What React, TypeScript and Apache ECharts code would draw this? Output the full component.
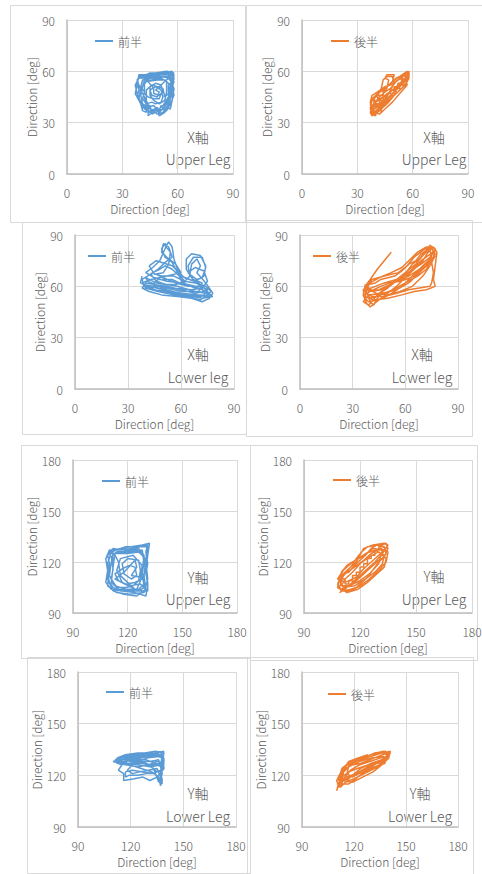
import React, { useEffect, useRef } from "react";
import * as echarts from "echarts";

// Axis ranges (degrees) and tick step
const X_AXIS_RANGE = [0, 90];
const Y_AXIS_RANGE = [90, 180];
const TICK_STEP = 30;

const FRONT = "前半";
const BACK = "後半";

// X axis rotation, upper leg — first half
const upperLegXFront = [
  [40,56],[46,57],[51,58],[56,59],[58,58],[57,52],[58,46],[56,41],[54,37],[51,35],[48,38],[45,36],[42,38],[40,42],[38,47],[37,52],[39,56],
  [43,57],[49,58],[55,58],[57,55],[56,49],[55,43],[53,39],[50,36],[47,40],[44,39],[41,41],[40,46],[41,51],[42,55],
  [46,55],[51,56],[54,54],[54,48],[53,43],[50,41],[47,43],[45,46],[45,51],[48,53],[51,52],[52,48],[50,46],[47,47],[47,50],
  [44,54],[41,57],[45,59],[52,59],[57,60],[58,56],[57,50],[56,44],[53,36],[50,34],[49,39],[46,37],[43,40],[42,45],[40,49],[38,55],
  [41,58],[48,57],[55,57],[58,54],[56,47],[54,42],[52,38],[48,36],[44,37],[41,39],[39,44],[40,50],[43,54],[49,55],[53,55],[56,52],
  [55,45],[52,40],[49,37],[45,38],[43,43],[43,49],[46,52],[52,50],[53,45],[55,47],[55,52],[57,54],[57,58],[53,58],[50,59],[46,58],
  [42,58],[39,57],[38,53],[39,49],[38,45],[40,41],[41,37],[43,36],[43,40],[45,40],[46,35],[48,36],[50,37],[51,40],[53,37],[55,40],
  [56,44],[58,49],[57,53],[55,56],[52,57],[48,56],[44,56],[41,55],[40,51],[42,48],[41,44],[43,41],[46,42],[48,41],[51,42],[52,45],
  [51,49],[48,51],[45,49],[46,46],[49,45],[50,48],[48,49],[52,53],[56,57],[58,59],[54,60],[48,59],[43,58],[39,58],[38,52],[37,47],
  [39,43],[41,40],[44,38],[44,34],[47,37],[49,35],[52,36],[54,39],[56,38],[57,43],[58,50],[56,55],[53,57],[49,56],[45,57],[42,53],
  [42,47],[44,45],[47,44],[50,44],[51,47]
];

// X axis rotation, upper leg — second half
const upperLegXBack = [
  [37,40],[38,44],[41,47],[44,49],[47,52],[50,53],[53,56],[56,58],[58,60],[58,56],[56,52],[53,49],[50,46],[47,42],[44,39],[41,36],[38,34],[37,36],
  [39,41],[42,45],[45,48],[48,50],[51,54],[55,57],[57,59],[57,54],[54,50],[51,47],[48,44],[45,41],[42,38],[39,35],[37,38],
  [38,43],[41,46],[43,50],[44,55],[46,57],[49,57],[50,53],[48,49],[46,45],[43,42],[40,40],[39,44],[42,48],[46,51],[49,54],[53,57],[57,60],
  [58,57],[55,53],[52,51],[49,47],[46,43],[43,40],[40,37],[38,36],[40,42],[43,44],[47,47],[50,50],[54,53],[56,56],[57,52],[53,47],
  [49,42],[45,38],[42,35],[39,36],[38,40],[41,43],[45,46],[49,49],[52,52],[55,55],[58,58],[56,55],[52,50],[47,45],[43,41],[40,39],
  [40,41],[42,41],[42,43],[44,43],[44,45],[46,45],[46,47],[48,47],[48,49],[50,49],[50,51],[52,51],[52,53],[54,53],[54,55],[56,55],
  [56,57],[58,58],[57,55],[55,55],[55,52],[53,52],[53,50],[51,50],[51,47],[49,47],[49,45],[47,45],[47,42],[45,42],[45,40],[43,40],
  [43,37],[40,37],[40,34],[38,35],[37,39],[39,39],[39,43],[41,43],[41,46],[44,46],[44,48],[46,50],[47,55],[45,56],[46,58],[50,58],
  [49,54],[51,56],[55,58],[58,59],[57,56],[54,52],[50,48],[46,44],[42,40],[38,37],[37,42],[38,46],[41,48],[45,51],[48,52],[52,55],[55,56]
];

// X axis rotation, lower leg — first half
const lowerLegXFront = [
  [38,66],[37,62],[42,60],[50,58],[60,56],[70,55],[77,54],[74,57],[68,60],[60,62],[52,63],[45,65],[40,68],[44,71],[48,75],[51,82],
  [53,86],[55,83],[56,76],[58,70],[60,66],[65,64],[68,63],[73,66],[74,72],[71,78],[66,79],[63,76],[63,70],[66,65],[70,61],[75,58],
  [73,55],[65,54],[56,55],[47,57],[40,59],[38,62],[43,64],[52,66],[60,68],[57,73],[52,77],[49,80],[50,85],[54,80],[53,73],[50,68],
  [45,67],[42,72],[46,75],[55,72],[62,65],[70,62],[76,56],[71,52],[63,54],[54,56],[45,58],[39,61],[44,60],[55,59],[66,58],[72,59],
  [75,63],[73,69],[68,71],[64,68],[67,64],[72,62],[70,57],[60,57],[48,60],[41,63],[40,65],[46,62],[58,60],[68,57],[74,56],[78,54],
  [72,53],[62,55],[52,58],[44,61],[47,64],[55,64],[61,61],[59,66],[55,70],[51,72],[48,70],[44,68],[41,66],[38,64],[39,60],[44,58],
  [52,57],[60,55],[66,55],[71,54],[75,55],[77,57],[74,60],[68,62],[62,63],[57,61],[52,61],[46,63],[43,67],[47,70],[51,74],[55,77],
  [53,83],[51,85],[49,82],[51,77],[55,74],[58,68],[62,63],[65,66],[64,72],[67,77],[72,77],[74,71],[72,65],[69,64],[65,67],[66,73],
  [69,76],[71,72],[69,68],[74,62],[78,56],[76,53],[72,51],[66,53],[58,54],[49,55],[42,57],[38,59],[40,62],[45,61],[52,60],[60,58],
  [68,56],[73,57],[71,60],[64,60],[57,62],[50,65],[46,67],[49,66],[56,66],[60,64],[63,61],[68,59],[72,58],[77,55]
];

// X axis rotation, lower leg — second half
const lowerLegXBack = [
  [52,80],[48,75],[44,70],[40,64],[37,60],[36,55],[38,50],[40,48],[45,52],[50,56],[55,60],[60,65],[65,70],[70,75],[73,80],[76,83],
  [78,80],[77,72],[76,64],[77,60],[72,58],[65,57],[58,55],[50,53],[42,52],[37,54],[38,58],[43,60],[48,62],[55,64],[60,68],[66,73],
  [70,78],[74,82],[75,76],[72,70],[67,66],[60,62],[53,58],[46,55],[40,53],[37,57],[40,62],[45,65],[52,68],[58,71],[63,76],[67,80],
  [72,83],[75,79],[73,73],[68,68],[62,62],[55,58],[47,56],[39,55],[36,51],[39,49],[44,55],[50,60],[55,63],[62,66],[68,70],[73,74],
  [77,78],[74,72],[70,66],[64,60],[57,57],[50,55],[43,56],[38,60],[41,64],[48,66],[56,68],[61,72],[65,77],[70,81],[73,83],[76,81],
  [74,77],[69,73],[63,69],[57,65],[51,61],[45,58],[39,57],[37,61],[38,56],[40,51],[42,49],[44,53],[47,57],[50,59],[53,62],[57,65],
  [61,69],[64,73],[68,76],[71,80],[74,84],[77,82],[76,77],[73,75],[70,71],[66,67],[62,64],[58,60],[54,57],[49,54],[44,52],[39,51],
  [37,53],[36,58],[39,61],[43,62],[46,64],[50,65],[54,66],[58,69],[62,73],[66,75],[69,79],[72,81],[75,83],[77,79],[75,74],[76,68],
  [75,62],[74,60],[68,59],[62,58],[55,56],[48,54],[41,54],[38,56],[42,58],[46,60],[51,62],[57,63],[63,65],[67,69],[71,73],[74,76],
  [76,80],[73,78],[69,75],[65,71],[61,67],[56,64],[51,60],[46,58],[41,57],[38,59]
];

// Y axis rotation, upper leg — first half
const upperLegYFront = [
  [110,126],[116,128],[122,129],[128,130],[132,131],[131,124],[130,115],[131,106],[130,100],[124,102],[117,103],[111,104],[108,108],
  [109,115],[108,122],[110,127],[118,127],[126,128],[129,124],[128,114],[129,105],[126,103],[119,104],[113,106],[110,112],[111,120],
  [112,125],[120,125],[127,126],[130,120],[131,110],[129,102],[121,101],[114,102],[109,106],[110,116],[113,124],[115,120],[116,112],
  [120,108],[124,104],[113,110],[118,114],[124,121],[125,117],[122,112],[127,111],[128,118],[123,124],[116,122],[114,115],[117,108],
  [121,106],[127,107],[130,104],[125,100],[118,101],[112,103],[109,110],[109,119],[111,126],[119,129],[125,129],[131,129],[130,122],
  [129,112],[130,103],[123,103],[115,104],[111,108],[112,117],[113,125],[121,126],[128,127],[129,119],[127,109],[125,104],[128,103],
  [131,103],[131,108],[130,113],[131,119],[130,126],[131,130],[127,129],[122,128],[117,127],[112,128],[109,124],[110,119],[109,113],
  [110,108],[112,105],[116,103],[121,104],[126,104],[129,107],[128,113],[129,120],[128,126],[123,127],[118,126],[114,126],[111,123],
  [112,116],[111,110],[114,105],[119,105],[123,106],[126,109],[127,115],[126,121],[120,122],[117,119],[118,113],[122,110],[125,112],
  [124,117],[121,118],[117,116],[113,113],[115,109],[119,107],[124,108],[128,110],[130,116],[129,123],[125,127],[119,128],[113,127],[110,124]
];

// Y axis rotation, upper leg — second half
const upperLegYBack = [
  [109,102],[112,104],[116,108],[120,112],[124,116],[128,120],[132,125],[135,130],[133,131],[127,130],[122,128],[120,124],[118,120],
  [114,116],[110,112],[108,107],[110,103],[115,103],[120,106],[125,110],[130,115],[134,120],[135,126],[131,128],[126,125],[122,121],
  [117,117],[112,113],[109,109],[111,105],[117,106],[123,110],[128,114],[132,119],[133,124],[128,127],[123,125],[119,122],[115,119],
  [111,115],[108,110],[112,108],[118,111],[122,116],[126,120],[130,124],[134,128],[130,130],[124,129],[121,126],[118,122],[115,117],
  [111,112],[109,105],[113,102],[119,104],[124,108],[129,113],[133,117],[134,122],[130,126],[125,123],[120,119],[116,114],[112,110],
  [110,106],[114,106],[120,109],[125,113],[130,119],[132,127],[127,128],[121,123],[116,120],[113,118],[110,114],[110,110],[112,110],
  [112,107],[114,107],[114,109],[116,109],[116,112],[118,112],[118,114],[120,114],[120,117],[122,117],[122,119],[124,119],[124,122],
  [126,122],[126,124],[128,124],[128,127],[130,127],[130,129],[133,129],[134,125],[132,122],[130,120],[128,117],[126,114],[124,111],
  [121,108],[118,105],[115,104],[111,103],[108,105],[109,110],[111,113],[114,114],[117,118],[120,121],[123,124],[126,128],[129,130],
  [132,130],[134,131],[135,128],[133,123],[130,121],[127,118],[124,115],[121,112],[118,109],[114,106],[110,104]
];

// Y axis rotation, lower leg — first half
const lowerLegYFront = [
  [111,129],[116,131],[122,132],[128,133],[134,134],[139,133],[138,128],[137,122],[138,117],[137,114],[136,119],[132,122],[126,124],
  [120,126],[114,128],[111,128],[115,126],[113,123],[116,121],[116,117],[122,118],[127,119],[131,117],[135,119],[139,124],[138,130],
  [133,132],[126,130],[119,129],[113,129],[118,127],[125,126],[131,125],[137,126],[139,130],[135,133],[128,131],[121,130],[117,129],
  [124,128],[131,128],[136,129],[138,121],[136,116],[133,124],[128,127],[120,128],[113,130],[119,131],[126,132],[133,133],[138,132],
  [137,125],[134,127],[129,129],[123,129],[116,128],[112,127],[118,126],[124,125],[130,126],[135,128],[139,127],[137,119],[135,124],
  [130,123],[125,122],[121,121],[118,123],[122,127],[129,130],[136,131],[139,134],[134,133],[129,132],[124,131],[118,130],[113,129],
  [110,128],[114,127],[120,127],[126,127],[132,126],[137,127],[138,124],[137,120],[138,115],[136,118],[134,121],[129,121],[124,120],
  [119,120],[117,119],[117,122],[121,123],[127,122],[133,121],[137,123],[139,128],[137,132],[131,133],[124,133],[117,132],[112,130],
  [116,129],[123,130],[130,131],[136,132],[139,129],[138,123],[135,122],[131,126],[126,128],[120,129],[115,127]
];

// Y axis rotation, lower leg — second half
const lowerLegYBack = [
  [110,111],[111,115],[113,120],[115,125],[118,128],[124,129],[130,131],[136,133],[141,134],[140,130],[137,127],[132,124],[126,121],
  [120,118],[115,116],[112,113],[114,118],[118,123],[123,126],[129,128],[135,130],[139,131],[136,126],[131,122],[125,119],[119,116],
  [113,117],[114,122],[119,127],[125,130],[132,133],[138,134],[140,131],[133,127],[127,124],[121,121],[116,119],[112,121],[117,125],
  [123,128],[130,130],[137,131],[138,127],[132,125],[126,123],[120,120],[115,118],[111,117],[113,124],[118,128],[126,131],[134,133],
  [140,133],[139,129],[134,127],[128,126],[122,124],[117,122],[113,119],[111,113],[114,115],[119,120],[124,124],[130,127],[136,129],
  [140,132],[137,129],[133,128],[128,125],[123,122],[118,119],[114,117],[111,114],[110,117],[112,121],[115,124],[119,126],[124,127],
  [129,129],[134,131],[139,133],[141,133],[138,130],[135,128],[130,125],[125,122],[119,119],[116,121],[117,126],[121,129],[127,131],
  [133,133],[137,134],[140,130],[136,127],[131,124],[126,122],[121,118],[117,115],[113,115],[112,119],[114,124],[117,128],[122,130],[128,132]
];

const BLUE = "#5b9bd5";
const ORANGE = "#ed7d31";
const TEXT = "#595959";
const FRAME = "#d9d9d9";
const FONT = "'Noto Sans CJK JP', 'Noto Sans', sans-serif";

type Panel = {
  data: number[][];
  name: string;
  color: string;
  range: number[];
  grid: [number, number, number, number];
  frame: [number, number, number, number];
  legend: [number, number];
  axisTag: string;
  part: string;
  tagX: number;
  tagY: [number, number];
  yGap: number;
};

const panels: Panel[] = [
  { data: upperLegXFront, name: FRONT, color: BLUE, range: X_AXIS_RANGE, grid: [67, 20, 166, 154], frame: [10, 5, 235, 217], legend: [95, 43], axisTag: "X軸", part: "Upper Leg", tagX: 198, tagY: [137, 159], yGap: 30 },
  { data: upperLegXBack, name: BACK, color: ORANGE, range: X_AXIS_RANGE, grid: [302, 20, 166, 154], frame: [246, 5, 240, 217], legend: [331, 43], axisTag: "X軸", part: "Upper Leg", tagX: 434, tagY: [137, 159], yGap: 30 },
  { data: lowerLegXFront, name: FRONT, color: BLUE, range: X_AXIS_RANGE, grid: [75, 235, 159, 154], frame: [22, 222, 224, 212], legend: [88, 258], axisTag: "X軸", part: "Lower leg", tagX: 198, tagY: [354, 377], yGap: 30 },
  { data: lowerLegXBack, name: BACK, color: ORANGE, range: X_AXIS_RANGE, grid: [300, 235, 158, 154], frame: [246, 220, 226, 216], legend: [313, 258], axisTag: "X軸", part: "Lower leg", tagX: 422, tagY: [354, 377], yGap: 30 },
  { data: upperLegYFront, name: FRONT, color: BLUE, range: Y_AXIS_RANGE, grid: [73, 460, 164, 153], frame: [21, 445, 229, 213], legend: [102, 483], axisTag: "Y軸", part: "Upper Leg", tagX: 198, tagY: [577, 599], yGap: 35 },
  { data: upperLegYBack, name: BACK, color: ORANGE, range: Y_AXIS_RANGE, grid: [304, 460, 168, 153], frame: [250, 445, 227, 215], legend: [333, 482], axisTag: "Y軸", part: "Upper Leg", tagX: 434, tagY: [576, 599], yGap: 35 },
  { data: lowerLegYFront, name: FRONT, color: BLUE, range: Y_AXIS_RANGE, grid: [78, 672, 158, 155], frame: [27, 657, 223, 216], legend: [106, 694], axisTag: "Y軸", part: "Lower Leg", tagX: 198, tagY: [793, 816], yGap: 35 },
  { data: lowerLegYBack, name: BACK, color: ORANGE, range: Y_AXIS_RANGE, grid: [302, 672, 156, 155], frame: [247, 657, 226, 217], legend: [328, 696], axisTag: "Y軸", part: "Lower Leg", tagX: 420, tagY: [793, 816], yGap: 35 },
];

function buildOption() {
  const axisCommon = (range: number[]) => ({
    type: "value" as const,
    min: range[0],
    max: range[1],
    interval: TICK_STEP,
    name: "Direction [deg]",
    nameLocation: "middle" as const,
    nameTextStyle: { color: TEXT, fontSize: 12, fontFamily: FONT, fontWeight: 300 },
    axisLine: { show: true, lineStyle: { color: "#bfbfbf", width: 1.5 } },
    axisTick: { show: false },
    axisLabel: { color: TEXT, fontSize: 12, fontFamily: FONT, fontWeight: 300, margin: 12 },
    splitLine: { show: true, lineStyle: { color: FRAME, width: 1 } },
  });

  return {
    animation: false,
    backgroundColor: "#ffffff",
    textStyle: { fontFamily: FONT },
    grid: panels.map((p) => ({
      left: p.grid[0],
      top: p.grid[1],
      width: p.grid[2],
      height: p.grid[3],
      containLabel: false,
      outerBoundsMode: "none",
    })),
    xAxis: panels.map((p, i) => ({ ...axisCommon(p.range), gridIndex: i, nameGap: 28 })),
    yAxis: panels.map((p, i) => ({ ...axisCommon(p.range), gridIndex: i, nameGap: p.yGap })),
    legend: panels.map((p) => ({
      data: [{ name: p.name, icon: "rect" }],
      left: p.legend[0],
      top: p.legend[1] - 8,
      padding: 0,
      itemWidth: 18,
      itemHeight: 2,
      selectedMode: false,
      textStyle: { color: TEXT, fontSize: 12, fontFamily: FONT, fontWeight: 300 },
    })),
    series: panels.map((p, i) => ({
      type: "line",
      name: p.name,
      xAxisIndex: i,
      yAxisIndex: i,
      data: p.data,
      showSymbol: false,
      symbol: "none",
      smooth: false,
      lineStyle: { color: p.color, width: 1.5 },
      itemStyle: { color: p.color },
    })),
    graphic: [
      ...panels.map((p) => ({
        type: "rect",
        z: -1,
        shape: { x: p.frame[0] + 0.5, y: p.frame[1] + 0.5, width: p.frame[2], height: p.frame[3] },
        style: { fill: "none", stroke: FRAME, lineWidth: 1 },
      })),
      ...panels.flatMap((p) => [
        {
          type: "text",
          x: p.tagX,
          y: p.tagY[0],
          style: { text: p.axisTag, fill: TEXT, fontSize: 14, fontFamily: FONT, fontWeight: 300, align: "center", verticalAlign: "middle" },
        },
        {
          type: "text",
          x: p.tagX,
          y: p.tagY[1],
          style: { text: p.part, fill: TEXT, fontSize: 14, fontFamily: FONT, fontWeight: 300, align: "center", verticalAlign: "middle" },
        },
      ]),
    ],
  };
}

export default function App() {
  const ref = useRef<HTMLDivElement>(null);

  useEffect(() => {
    if (!ref.current) return;
    const chart = echarts.init(ref.current, null, { renderer: "svg" });
    chart.setOption(buildOption() as any);
    return () => chart.dispose();
  }, []);

  return (
    <div
      ref={ref}
      style={{ position: "absolute", left: 0, top: 0, width: 482, height: 874, background: "#fff" }}
    />
  );
}
